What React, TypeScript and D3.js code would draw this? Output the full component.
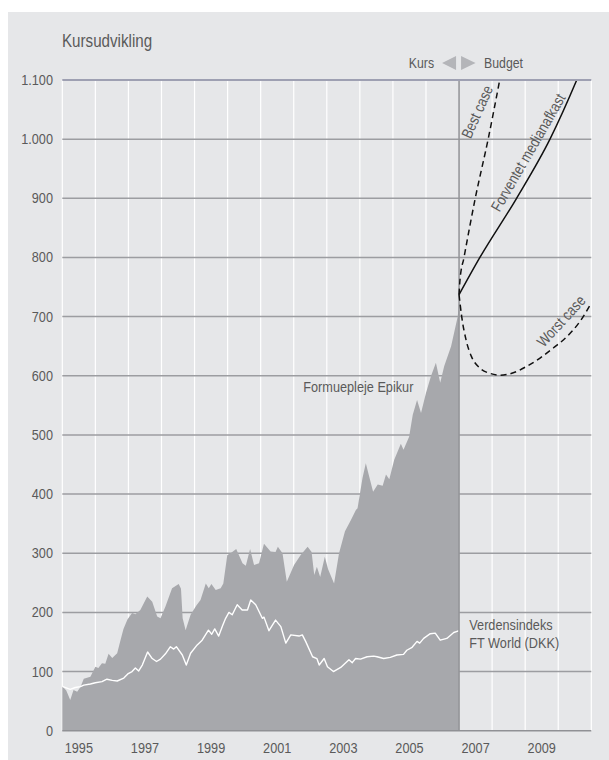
import React from "react";
import * as d3 from "d3";

// ---------- data ----------
const yTickValues = [0, 100, 200, 300, 400, 500, 600, 700, 800, 900, 1000, 1100];
const yTickLabels = ["0", "100", "200", "300", "400", "500", "600", "700", "800", "900", "1.000", "1.100"];
const xGridYears = [1995, 1996, 1997, 1998, 1999, 2000, 2001, 2002, 2003, 2004, 2005, 2006, 2007, 2008, 2009, 2010, 2011];
const xLabelYears = [1995, 1997, 1999, 2001, 2003, 2005, 2007, 2009];

const epikurDates = [
  1995.0, 1995.12, 1995.24, 1995.34, 1995.45, 1995.55, 1995.65, 1995.85, 1996.0, 1996.09,
  1996.2, 1996.3, 1996.4, 1996.51, 1996.66, 1996.76, 1996.85, 1996.97, 1997.11, 1997.21,
  1997.36, 1997.57, 1997.72, 1997.87, 1997.97, 1998.12, 1998.32, 1998.52, 1998.59, 1998.64,
  1998.73, 1998.88, 1999.06, 1999.18, 1999.34, 1999.43, 1999.51, 1999.64, 1999.79, 1999.87,
  1999.99, 2000.09, 2000.26, 2000.45, 2000.55, 2000.68, 2000.8, 2000.95, 2001.1, 2001.3,
  2001.45, 2001.52, 2001.66, 2001.79, 2002.01, 2002.21, 2002.42, 2002.54, 2002.62, 2002.7,
  2002.8, 2002.94, 2003.04, 2003.22, 2003.37, 2003.55, 2003.73, 2003.88, 2003.93, 2004.08,
  2004.18, 2004.28, 2004.4, 2004.54, 2004.69, 2004.79, 2004.89, 2005.04, 2005.24, 2005.32,
  2005.49, 2005.6, 2005.73, 2005.85, 2006.0, 2006.15, 2006.3, 2006.43, 2006.55, 2006.76,
  2006.96, 2007.0,
];
const epikurValues = [
  75, 68, 52, 69, 66, 74, 88, 91, 108, 106,
  114, 113, 130, 123, 131, 153, 172, 188, 199, 197,
  204, 227, 218, 193, 190, 210, 241, 248, 240, 190,
  170, 196, 212, 221, 249, 241, 248, 238, 241, 249,
  297, 300, 307, 283, 279, 307, 280, 283, 316, 303,
  302, 311, 300, 252, 280, 297, 311, 302, 263, 277,
  260, 294, 273, 249, 300, 337, 356, 373, 376, 427,
  452, 430, 404, 416, 414, 433, 425, 458, 485, 475,
  497, 534, 559, 537, 571, 599, 622, 588, 616, 650,
  700, 725,
];

const worldDates = [
  1995.0, 1995.24, 1995.39, 1995.55, 1995.65, 1995.85, 1996.0, 1996.2, 1996.35, 1996.51,
  1996.66, 1996.86, 1996.98, 1997.11, 1997.21, 1997.31, 1997.42, 1997.58, 1997.72, 1997.85,
  1997.97, 1998.12, 1998.27, 1998.37, 1998.45, 1998.63, 1998.75, 1998.88, 1999.08, 1999.23,
  1999.33, 1999.42, 1999.52, 1999.61, 1999.73, 1999.85, 1999.94, 2000.04, 2000.14, 2000.29,
  2000.44, 2000.6, 2000.7, 2000.85, 2001.05, 2001.1, 2001.25, 2001.45, 2001.61, 2001.76,
  2001.91, 2002.16, 2002.26, 2002.36, 2002.57, 2002.7, 2002.77, 2002.92, 2003.02, 2003.2,
  2003.42, 2003.67, 2003.77, 2003.87, 2004.02, 2004.22, 2004.42, 2004.52, 2004.72, 2004.92,
  2005.12, 2005.32, 2005.42, 2005.58, 2005.73, 2005.81, 2005.93, 2006.13, 2006.28, 2006.43,
  2006.63, 2006.84, 2006.94, 2006.99,
];
const worldValues = [
  75, 70, 73, 74.5, 77, 79, 81, 83, 87, 85,
  84, 89, 96, 100, 106, 101, 111, 133, 122, 117,
  121, 130, 142, 138, 142, 128, 111, 131, 145, 153,
  162, 170, 163, 172, 160, 178, 190, 200, 196, 213,
  204, 204, 221, 213, 190, 192, 169, 187, 176, 148,
  162, 160, 162, 151, 125, 122, 111, 122, 108, 100,
  107, 120, 115, 122, 121, 125, 126, 125, 122, 124,
  128, 129, 136, 141, 151, 148, 156, 164, 165, 153,
  156, 166, 168, 169,
];

const medianDates = [2007.0, 2007.63, 2008.74, 2009.75, 2010.56, 2011.0];
const medianValues = [737, 800, 900, 1000, 1100, 1160];

const bestDates = [2007.0, 2007.03, 2007.15, 2007.49, 2007.88, 2008.23, 2008.5];
const bestValues = [737, 763, 800, 900, 1000, 1100, 1180];

const worstDates = [
  2007.0, 2007.08, 2007.21, 2007.38, 2007.63, 2007.94, 2008.24, 2008.64, 2009.05, 2009.45,
  2009.85, 2010.26, 2010.66, 2010.98,
];
const worstValues = [737, 700, 661, 632, 613, 604, 601, 605, 616, 630, 647, 666, 692, 721];

// ---------- style ----------
const FONT = "'Liberation Sans', Arial, sans-serif";
const NARROW = 0.82;
const TEXT = "#5a5a5a";
const BG = "#e6e7e9";
const AREA = "#a7a8ac";
const HGRID = "#9c9da1";

type NTProps = {
  x: number;
  y: number;
  size: number;
  anchor?: "start" | "middle" | "end";
  rotate?: number;
  central?: boolean;
  children: React.ReactNode;
};

function NText({ x, y, size, anchor = "start", rotate = 0, central = false, children }: NTProps) {
  return (
    <text
      transform={`translate(${x},${y}) rotate(${rotate}) scale(${NARROW},1)`}
      textAnchor={anchor}
      dominantBaseline={central ? "central" : undefined}
      fontSize={size}
      fill={TEXT}
    >
      {children}
    </text>
  );
}

export default function App() {
  const W = 609;
  const H = 760;
  const x = d3.scaleLinear().domain([1995, 2011]).range([62.3, 591.3]);
  const y = d3.scaleLinear().domain([0, 1100]).range([730.7, 80]);

  const epikur: [number, number][] = epikurDates.map((d, i) => [d, epikurValues[i]]);
  const world: [number, number][] = worldDates.map((d, i) => [d, worldValues[i]]);
  const median: [number, number][] = medianDates.map((d, i) => [d, medianValues[i]]);
  const best: [number, number][] = bestDates.map((d, i) => [d, bestValues[i]]);
  const worst: [number, number][] = worstDates.map((d, i) => [d, worstValues[i]]);

  const area = d3
    .area<[number, number]>()
    .x((d) => x(d[0]))
    .y0(y(0))
    .y1((d) => y(d[1]));
  const line = d3
    .line<[number, number]>()
    .x((d) => x(d[0]))
    .y((d) => y(d[1]));
  const smooth = d3
    .line<[number, number]>()
    .x((d) => x(d[0]))
    .y((d) => y(d[1]))
    .curve(d3.curveMonotoneX);

  const x0 = x(1995);
  const x1 = x(2011);
  const xd = x(2007);

  return (
    <svg
      width={W}
      height={H}
      style={{ position: "absolute", left: 0, top: 0 }}
      fontFamily={FONT}
    >
      <defs>
        <clipPath id="plotClip">
          <rect x={x0} y={y(1100)} width={x1 - x0} height={y(0) - y(1100)} />
        </clipPath>
      </defs>
      <rect x={0} y={0} width={W} height={H} fill="#ffffff" />
      <rect x={8} y={12} width={W - 8} height={H - 12} fill={BG} />

      {/* vertical white grid */}
      {xGridYears.map((yr) => (
        <line key={"v" + yr} x1={x(yr)} x2={x(yr)} y1={y(1100)} y2={y(0)} stroke="#ffffff" strokeWidth={1.2} />
      ))}
      {/* horizontal grid */}
      {yTickValues.slice(1, -1).map((v) => (
        <line key={"h" + v} x1={x0} x2={x1} y1={y(v)} y2={y(v)} stroke={HGRID} strokeWidth={1.5} />
      ))}

      {/* area */}
      <path d={area(epikur) || ""} fill={AREA} />
      {/* world index */}
      <path d={line(world) || ""} fill="none" stroke="#ffffff" strokeWidth={1.4} strokeLinejoin="round" />

      {/* divider */}
      <line x1={xd} x2={xd} y1={y(1100)} y2={y(0)} stroke="#939498" strokeWidth={1.6} />

      {/* forecasts */}
      <g clipPath="url(#plotClip)">
        <path d={smooth(median) || ""} fill="none" stroke="#111" strokeWidth={1.5} />
        <path d={smooth(best) || ""} fill="none" stroke="#111" strokeWidth={1.5} strokeDasharray="6,4" />
        <path d={smooth(worst) || ""} fill="none" stroke="#111" strokeWidth={1.5} strokeDasharray="6,4" />
      </g>

      {/* top and bottom axis lines */}
      <line x1={x0} x2={x1} y1={y(1100)} y2={y(1100)} stroke="#9ea0b2" strokeWidth={2} />
      <line x1={x0} x2={x1} y1={y(0)} y2={y(0)} stroke="#909195" strokeWidth={1.5} />

      {/* y labels */}
      {yTickValues.map((v, i) => (
        <NText key={"yl" + v} x={53} y={y(v) + 5} size={15.5} anchor="end">
          {yTickLabels[i]}
        </NText>
      ))}
      {/* x labels */}
      {xLabelYears.map((yr) => (
        <NText key={"xl" + yr} x={x(yr + 0.5)} y={753} size={15.5} anchor="middle">
          {yr}
        </NText>
      ))}

      {/* title */}
      <NText x={62} y={47} size={18.5}>
        Kursudvikling
      </NText>

      {/* Kurs / Budget header */}
      <NText x={xd - 25} y={67.5} size={15} anchor="end">
        Kurs
      </NText>
      <path d={`M${xd - 3},56 L${xd - 3},70 L${xd - 17},63 Z`} fill="#b4b5b9" />
      <path d={`M${xd + 2},56 L${xd + 2},70 L${xd + 16.5},63 Z`} fill="#b4b5b9" />
      <NText x={xd + 25} y={67.5} size={15}>
        Budget
      </NText>

      {/* series labels */}
      <NText x={303.3} y={391.7} size={15.5}>
        Formuepleje Epikur
      </NText>
      <NText x={469.3} y={630} size={15.5}>
        Verdensindeks
      </NText>
      <NText x={469.3} y={648} size={15.5}>
        FT World (DKK)
      </NText>

      <NText x={477} y={111.7} size={15.5} anchor="middle" rotate={-66} central>
        Best case
      </NText>
      <NText x={528} y={152.5} size={15.5} anchor="middle" rotate={-60} central>
        Forventet medianafkast
      </NText>
      <NText x={561} y={321} size={15.5} anchor="middle" rotate={-47.5} central>
        Worst case
      </NText>
    </svg>
  );
}
